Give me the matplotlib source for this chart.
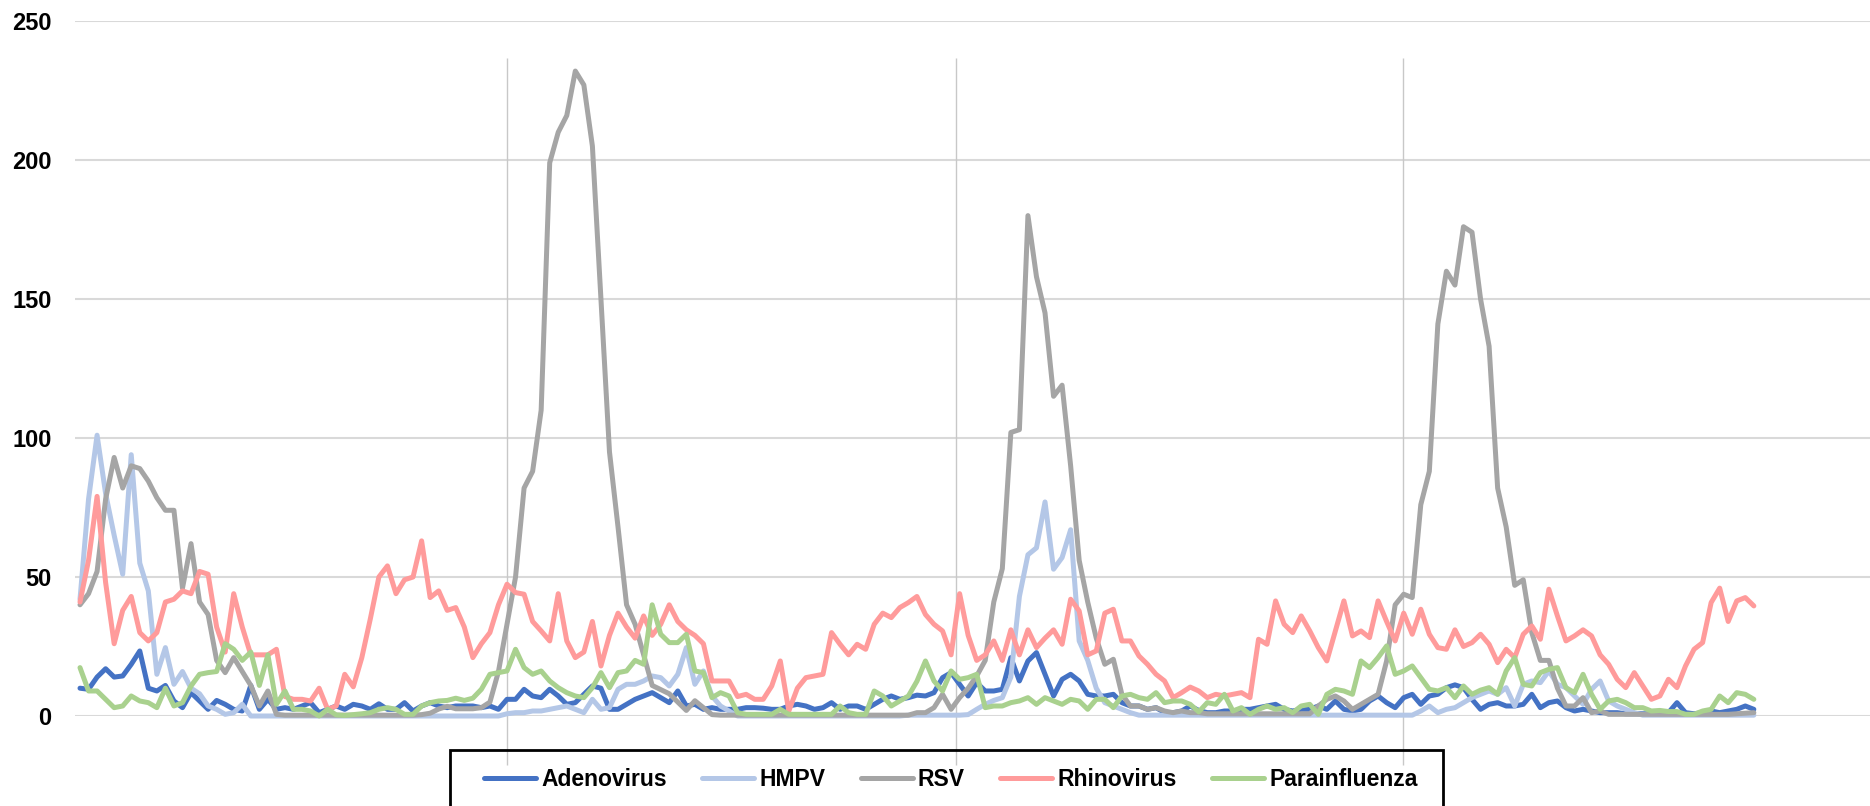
import matplotlib
matplotlib.use("Agg")
import matplotlib.pyplot as plt
from matplotlib import font_manager
from matplotlib.patches import Rectangle

# ---------------- data (weekly counts) ----------------
adenovirus = [
    10, 9.6, 14, 17, 14, 14.4, 18.6, 23.4, 10, 9,
    11, 5.4, 3, 8.4, 5.4, 2.4, 5.6, 4.2, 2.4, 1.8,
    11, 2.4, 6, 2.4, 3, 2.4, 3.6, 4.8, 1.2, 2.4,
    3.6, 2.4, 4.2, 3.6, 2.4, 4.4, 2.4, 2.4, 4.8, 1.8,
    3.6, 4.8, 3.6, 3, 3.6, 3.6, 3.6, 3, 3.6, 2.4,
    6, 6, 9.6, 7.2, 6.6, 9.6, 7.2, 4.2, 4.8, 7.8,
    10.8, 10, 2.4, 2.4, 4.2, 6, 7.2, 8.4, 6.6, 4.8,
    9, 3.6, 4.2, 2.4, 3, 2.4, 2.4, 2.4, 3, 3,
    2.8, 2.4, 2.4, 3.6, 4.2, 3.6, 2.4, 3, 4.8, 2.4,
    3.6, 3.6, 2.4, 4.2, 6, 7.2, 6, 6.6, 7.5, 7.2,
    8.4, 13.8, 15.6, 11.4, 7.2, 12, 9, 9, 9.6, 21,
    12.6, 19.8, 22.8, 15, 7.2, 13.2, 15, 12.6, 7.8, 7.2,
    7.2, 7.8, 4.8, 3.6, 3.6, 2.4, 3, 1.2, 1.2, 1.8,
    3.6, 2, 1.2, 1.2, 1.8, 1.8, 2.4, 2.4, 3, 3.6,
    4.2, 2.4, 1.8, 2.4, 2.4, 3.6, 2.4, 5.4, 2.4, 1.8,
    2.4, 5.4, 7.2, 4.8, 3, 6.6, 7.8, 4.2, 7.2, 7.8,
    10.2, 11.2, 10.2, 6, 2.4, 4.2, 4.8, 3.6, 3.6, 4.2,
    7.8, 3, 4.8, 5.4, 3, 1.8, 2.4, 1.8, 1.2, 1.2,
    1.2, 0.8, 0.8, 0.8, 0.8, 0.8, 1.2, 4.8, 1.2, 0.8,
    1.2, 1.8, 1.2, 1.8, 2.4, 3.6, 2.4,
]

hmpv = [
    42, 78, 101, 80, 65, 51, 94, 55, 45, 15,
    24.6, 11.4, 16, 10, 8, 3.6, 2.4, 0.6, 1.2, 4.2,
    0, 0, 0, 0, 0, 0, 0, 0, 0, 0,
    0, 0, 0, 0, 0, 0, 0, 0, 0, 0,
    0, 0, 0, 0, 0, 0, 0, 0, 0, 0,
    0.8, 1.2, 1.2, 1.8, 1.8, 2.4, 3, 3.6, 2.4, 1.2,
    6, 2.4, 3, 9.6, 11.4, 11.4, 12.6, 14.4, 13.8, 10.8,
    15, 24.6, 11.4, 16.2, 7.2, 3.6, 1.8, 0, 0, 0,
    0, 0, 0, 0, 0, 0, 0, 0, 0, 0,
    0, 0, 0, 0, 0, 0, 0, 0.3, 0.3, 0.3,
    0.3, 0.3, 0.3, 0.3, 0.5, 2.4, 4.2, 5.6, 6.6, 14,
    43, 58, 60.5, 77, 52.8, 57, 67, 27, 20, 10,
    4.8, 3.6, 2.4, 1.2, 0.3, 0.3, 0.3, 0.3, 0.3, 0.3,
    0.3, 0.3, 0.3, 0.3, 0.3, 0.3, 0.3, 0.3, 0.3, 0.3,
    0.3, 0.3, 0.3, 0.3, 0.3, 0.3, 0.3, 0.3, 0.3, 0.3,
    0.3, 0.3, 0.3, 0.3, 0.3, 0.3, 0.3, 1.8, 3.6, 1.2,
    2.4, 3, 4.8, 6.6, 7.8, 9, 7.8, 10.2, 3.6, 11.4,
    12.6, 12, 16.2, 11.4, 10.2, 7.2, 4.2, 9.6, 12.6, 5.4,
    3.6, 2.4, 1.2, 0.3, 0.3, 0.3, 0.3, 0.3, 0.3, 0.3,
    0.3, 0.3, 0.3, 0.3, 0.3, 0.3, 0.3,
]

rsv = [
    40, 44, 52, 78, 93, 82, 90, 89, 84.5, 78.5,
    74, 74, 46, 62, 41, 36.5, 20, 15.6, 21, 16,
    11, 3.6, 9, 0.6, 0.3, 0.3, 0.3, 0.3, 0.3, 0.3,
    0.3, 0.3, 0.3, 0.3, 0.3, 0.3, 0.3, 0.3, 0.3, 0.3,
    0.5, 1, 2.5, 3.5, 2.6, 2.6, 2.6, 3, 5, 16,
    33, 50, 82, 88, 110, 199, 210, 216, 232, 227,
    205, 150, 95, 68, 40, 33, 22, 11, 9.5, 8,
    5, 2, 5.5, 3, 0.5, 0.3, 0.3, 0.3, 0.3, 0.3,
    0.3, 0.3, 0.3, 0.3, 0.3, 0.3, 0.3, 0.3, 0.3, 0.3,
    0.3, 0.3, 0.3, 0.3, 0.3, 0.3, 0.3, 0.3, 1.2, 1.2,
    3, 7.8, 2.4, 6.6, 10, 14.4, 20, 41, 53, 102,
    103, 180, 158, 145, 115, 119, 90, 56, 41, 28,
    18.6, 20.4, 7.8, 3.6, 3.6, 2.4, 3, 1.8, 1.2, 1.8,
    1.2, 1.2, 0.8, 0.8, 0.8, 0.8, 0.8, 0.8, 0.8, 0.8,
    0.8, 0.8, 0.8, 0.8, 0.8, 3.6, 6, 7.2, 5.4, 2.4,
    4.2, 6, 7.8, 19.8, 40, 43.8, 42.6, 76, 88, 141,
    160, 155, 176, 174, 150, 133, 82, 68, 47, 49,
    30, 20, 20, 10, 3.6, 3.6, 6.6, 1.2, 1.8, 0.6,
    0.6, 0.6, 0.6, 0.6, 0.6, 0.6, 0.6, 0.6, 0.6, 0.6,
    0.6, 0.6, 0.6, 0.6, 0.8, 1, 1.2,
]

rhinovirus = [
    41, 56, 79, 48, 26, 38, 43, 30, 27, 30,
    41, 42, 45, 44, 52, 51, 32, 23, 44, 32,
    22, 22, 22, 24, 7, 6, 6, 5.4, 10, 2.4,
    3.6, 15, 10.5, 21, 35, 50, 54, 44, 49, 50,
    63, 42.6, 45, 38, 39, 32, 21, 26, 30, 40,
    47.4, 44.4, 43.8, 34, 30.6, 27, 44, 27, 21, 23,
    34, 18, 29, 37, 32, 28, 36, 29, 33, 40,
    34, 31, 29, 26, 12.6, 12.6, 12.6, 7, 7.8, 6,
    6, 10.8, 19.8, 1.8, 10, 13.8, 14.4, 15, 30, 25.8,
    22, 25.8, 24, 33, 37, 35.4, 39, 40.8, 43, 36.5,
    33, 30.6, 22, 44, 29, 20, 22, 27, 20, 31,
    22, 31, 24.6, 28, 31, 25.8, 42, 37.8, 22, 23.4,
    37, 38.4, 27, 27, 21.6, 18.6, 15, 12.6, 6.6, 8.4,
    10.4, 9, 6.6, 7.8, 7.2, 7.8, 8.4, 6.6, 27.6, 25.8,
    41.4, 33, 30, 36, 30.6, 24.6, 19.8, 30.6, 41.4, 28.8,
    30.6, 28.2, 41.4, 34, 27, 37, 29.4, 38.4, 29.4, 24.6,
    24, 31, 25, 26.4, 29.4, 25.8, 19.2, 24, 21, 29.4,
    32.4, 27.6, 45.6, 36, 27, 28.8, 31, 28.8, 22, 18.6,
    13.2, 10.2, 15.6, 10.8, 6, 7.2, 13.2, 10.2, 18, 24,
    26.4, 40.8, 46, 34, 41.4, 42.6, 39.6,
]

parainfluenza = [
    17.4, 9, 9, 6, 3, 3.6, 7.2, 5.4, 4.8, 3,
    10, 3.6, 4.8, 10.8, 15, 15.6, 16, 26, 24, 20,
    23, 11, 22, 4.2, 9, 2.4, 2.4, 1.8, 0, 2.4,
    0.4, 0.2, 0.5, 0.8, 1.2, 2.4, 3, 2.4, 0.6, 0.6,
    3.6, 4.8, 5.4, 5.6, 6.4, 5.6, 6.4, 9.6, 15, 15.6,
    16.2, 24, 17.4, 15, 16.2, 12.6, 10.2, 8.4, 7.2, 6.6,
    10.2, 15.6, 10.2, 15.6, 16.2, 20, 18.6, 40, 29.4, 26.4,
    26.4, 29.4, 16.2, 15.6, 6.6, 8.4, 7.2, 1.2, 0.6, 0.6,
    0.6, 0.6, 2.4, 0.6, 0.6, 0.6, 0.6, 0.6, 0.6, 3.6,
    1.2, 0.6, 0.6, 9, 7.2, 3.6, 5.4, 7.2, 12.5, 19.8,
    12.6, 9, 16.2, 13.2, 13.8, 15, 3, 3.6, 3.6, 4.8,
    5.4, 6.6, 4.2, 6.6, 5.4, 4.2, 6, 5.4, 2.4, 6,
    6, 3, 7.2, 7.8, 6.6, 6, 8.4, 4.8, 5.4, 5.4,
    4.2, 1.5, 4.8, 4.2, 7.8, 1.8, 3, 0.6, 2.4, 3.6,
    2.4, 3, 1.2, 3.6, 4.2, 0.6, 7.8, 9.6, 9, 7.8,
    19.8, 17.4, 21, 25.2, 15, 16.2, 18, 13.8, 9.6, 9,
    10.2, 6.6, 10.8, 7.8, 9.3, 10.2, 7.8, 16.2, 21, 11.4,
    10.8, 15.6, 16.8, 17.4, 10.2, 8.4, 15, 7.8, 2.4, 5.4,
    6, 4.8, 3, 3, 1.8, 2, 1.6, 1.6, 0.6, 0.6,
    1.8, 2.4, 7.2, 4.8, 8.4, 7.8, 6,
]

series_names = ["Adenovirus", "HMPV", "RSV", "Rhinovirus", "Parainfluenza"]
series_values = [adenovirus, hmpv, rsv, rhinovirus, parainfluenza]
y_ticks = [0, 50, 100, 150, 200, 250]
season_marks = [50, 102.6, 154.9]   # week index of the vertical separators

# ---------------- font choice (narrow bold like the original) ----------------
available = {f.name for f in font_manager.fontManager.ttflist}
if "Liberation Sans Narrow" in available:
    FONT, TICK_FS, LEG_FS, HLEN, CSP = "Liberation Sans Narrow", 19, 19, 1.97, 1.4
else:
    FONT, TICK_FS, LEG_FS, HLEN, CSP = "Liberation Sans", 17, 16.5, 2.27, 1.55
plt.rcParams["font.family"] = [FONT, "DejaVu Sans"]

# ---------------- styling ----------------
colors = ["#4472C4", "#B4C7E7", "#A5A5A5", "#FF9B9B", "#A9D18E"]

W, H = 1870, 806
fig = plt.figure(figsize=(W / 100, H / 100), dpi=100)
ax = fig.add_axes([75 / W, (H - 716) / H, (W - 75) / W, (716 - 21) / H])

n = len(adenovirus)
weeks = list(range(n))
for name, vals, c in zip(series_names, series_values, colors):
    assert len(vals) == n, name
    ax.plot(weeks, vals, color=c, lw=3.6, label=name,
            solid_joinstyle="round", solid_capstyle="round", clip_on=False, zorder=3)

ax.set_ylim(0, 250)
ax.set_xlim((75 - 80) / 8.54, (W - 80) / 8.54)

ax.set_yticks(y_ticks)
ax.set_yticklabels([str(t) for t in y_ticks], fontsize=TICK_FS, fontweight="bold")
ax.tick_params(axis="y", length=0, pad=17)
ax.set_xticks([])
ax.grid(axis="y", color="#D9D9D9", lw=1.5, zorder=0)
ax.set_axisbelow(True)
for s in ax.spines.values():
    s.set_visible(False)

# vertical season separators (extend below the plot area)
ax.vlines(season_marks, -17.6, 236.7, colors="#C8C8C8", lw=1.0, clip_on=False, zorder=1)

# legend
fig.legend(loc="center left", bbox_to_anchor=(484 / W, (H - 780) / H),
           ncol=5, frameon=False, borderpad=0, borderaxespad=0,
           handlelength=HLEN, handletextpad=0.22, columnspacing=CSP,
           prop={"family": [FONT, "DejaVu Sans"], "weight": "bold", "size": LEG_FS})
fig.add_artist(Rectangle((450 / W, -0.05), (1443 - 450) / W, (H - 750) / H + 0.05,
                         transform=fig.transFigure, fill=False,
                         edgecolor="black", lw=2.0))

fig.savefig("out.png", dpi=100)
